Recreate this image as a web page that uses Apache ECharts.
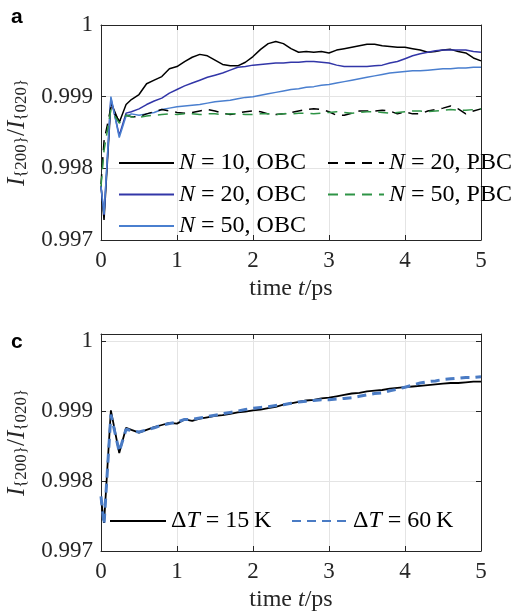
<!DOCTYPE html>
<html><head><meta charset="utf-8">
<script src="https://cdn.jsdelivr.net/npm/echarts@6/dist/echarts.min.js"></script>
<style>html,body{margin:0;padding:0;background:#fff}#c{width:529px;height:611px}</style>
</head><body><div id="c"></div>
<script>
// time axis (ps)
const T = [0, 0.04, 0.13, 0.24, 0.33,
  0.4, 0.5, 0.6, 0.7, 0.8, 0.9, 1.0, 1.1, 1.2, 1.3,
  1.4, 1.5, 1.6, 1.7, 1.8, 1.9, 2.0, 2.1, 2.2, 2.3,
  2.4, 2.5, 2.6, 2.7, 2.8, 2.9, 3.0, 3.1, 3.2, 3.3,
  3.4, 3.5, 3.6, 3.7, 3.8, 3.9, 4.0, 4.1, 4.2, 4.3,
  4.4, 4.5, 4.6, 4.7, 4.8, 4.9, 5.0];

// panel a
const N10_OBC = [0.99775, 0.99728, 0.99892, 0.99864, 0.99889,
  0.99896, 0.99903, 0.99918, 0.99923, 0.99928, 0.99939, 0.99942, 0.99949, 0.99955, 0.99959,
  0.99957, 0.99951, 0.99945, 0.99943, 0.99943, 0.99948, 0.99956, 0.99966, 0.99974, 0.99977,
  0.99974, 0.99967, 0.99962, 0.99963, 0.99962, 0.99963, 0.99961, 0.99965, 0.99967, 0.99969,
  0.99971, 0.99973, 0.99973, 0.99971, 0.99970, 0.99969, 0.99969, 0.99967, 0.99965, 0.99962,
  0.99963, 0.99965, 0.99966, 0.99963, 0.99961, 0.99954, 0.99950];
const N20_OBC = [0.99775, 0.99735, 0.99898, 0.99846, 0.99877,
  0.99879, 0.99883, 0.99889, 0.99894, 0.99898, 0.99905, 0.99910, 0.99915, 0.99919, 0.99923,
  0.99927, 0.99930, 0.99933, 0.99937, 0.99941, 0.99942, 0.99944, 0.99945, 0.99946, 0.99947,
  0.99947, 0.99948, 0.99948, 0.99949, 0.99949, 0.99948, 0.99947, 0.99944, 0.99942, 0.99942,
  0.99942, 0.99942, 0.99943, 0.99944, 0.99947, 0.99949, 0.99953, 0.99957, 0.99960, 0.99962,
  0.99964, 0.99965, 0.99965, 0.99965, 0.99965, 0.99963, 0.99962];
const N50_OBC = [0.99775, 0.99736, 0.99900, 0.99843, 0.99873,
  0.99876, 0.99874, 0.99876, 0.99878, 0.99882, 0.99884, 0.99886, 0.99887, 0.99888, 0.99889,
  0.99891, 0.99893, 0.99894, 0.99895, 0.99897, 0.99899, 0.99900, 0.99902, 0.99904, 0.99906,
  0.99908, 0.99910, 0.99911, 0.99913, 0.99914, 0.99916, 0.99917, 0.99919, 0.99921, 0.99923,
  0.99925, 0.99927, 0.99929, 0.99931, 0.99933, 0.99934, 0.99935, 0.99936, 0.99936, 0.99937,
  0.99938, 0.99939, 0.99939, 0.99940, 0.99940, 0.99941, 0.99941];
const N20_PBC = [0.99778, 0.99838, 0.99885, 0.99866, 0.99874,
  0.99872, 0.99872, 0.99876, 0.99879, 0.99882, 0.99880, 0.99878, 0.99877, 0.99878, 0.99880,
  0.99882, 0.99880, 0.99877, 0.99875, 0.99877, 0.99879, 0.99880, 0.99879, 0.99876, 0.99875,
  0.99876, 0.99878, 0.99880, 0.99882, 0.99883, 0.99882, 0.99879, 0.99874, 0.99874, 0.99877,
  0.99880, 0.99880, 0.99880, 0.99881, 0.99880, 0.99876, 0.99879, 0.99876, 0.99876, 0.99880,
  0.99882, 0.99884, 0.99887, 0.99883, 0.99876, 0.99880, 0.99883];
const N50_PBC = [0.99775, 0.99825, 0.99882, 0.99863, 0.99874,
  0.99872, 0.99871, 0.99873, 0.99874, 0.99875, 0.99876, 0.99875, 0.99876, 0.99876, 0.99875,
  0.99876, 0.99876, 0.99875, 0.99876, 0.99876, 0.99875, 0.99875, 0.99876, 0.99876, 0.99875,
  0.99876, 0.99876, 0.99877, 0.99877, 0.99876, 0.99877, 0.99878, 0.99879, 0.99878, 0.99877,
  0.99878, 0.99879, 0.99879, 0.99878, 0.99877, 0.99878, 0.99879, 0.99880, 0.99880, 0.99879,
  0.99880, 0.99881, 0.99882, 0.99881, 0.99881, 0.99882, 0.99883];

// panel c
const DT15 = [0.99775, 0.99740, 0.99901, 0.99840, 0.99876,
  0.99873, 0.99869, 0.99873, 0.99877, 0.99880, 0.99883, 0.99882, 0.99888, 0.99886, 0.99889,
  0.99891, 0.99893, 0.99894, 0.99896, 0.99898, 0.99899, 0.99901, 0.99902, 0.99904, 0.99906,
  0.99909, 0.99911, 0.99913, 0.99915, 0.99916, 0.99918, 0.99919, 0.99921, 0.99923, 0.99925,
  0.99926, 0.99928, 0.99929, 0.99930, 0.99932, 0.99933, 0.99934, 0.99935, 0.99936, 0.99937,
  0.99938, 0.99939, 0.99940, 0.99940, 0.99941, 0.99942, 0.99942];
const DT60 = [0.99778, 0.99738, 0.99895, 0.99842, 0.99874,
  0.99872, 0.99870, 0.99873, 0.99876, 0.99880, 0.99882, 0.99884, 0.99888, 0.99888, 0.99890,
  0.99892, 0.99894, 0.99896, 0.99898, 0.99900, 0.99902, 0.99904, 0.99905, 0.99906, 0.99908,
  0.99909, 0.99911, 0.99913, 0.99914, 0.99915, 0.99916, 0.99916, 0.99917, 0.99918, 0.99919,
  0.99921, 0.99923, 0.99925, 0.99926, 0.99929, 0.99931, 0.99934, 0.99937, 0.99940, 0.99942,
  0.99943, 0.99945, 0.99946, 0.99947, 0.99948, 0.99948, 0.99949];

const NAMES_A = ['N = 10, OBC', 'N = 20, OBC', 'N = 50, OBC', 'N = 20, PBC', 'N = 50, PBC'];
const NAMES_C = ['ΔT = 15\u2009K', 'ΔT = 60\u2009K'];
const Y_TICKS = [0.997, 0.998, 0.999, 1];
const X_TICKS = [0, 1, 2, 3, 4, 5];

const SERIF = 'Liberation Serif';
const FS = 23;   // tick labels
const FL = 24;   // legend & axis names
const AX = '#262626';
const pair = a => T.map((t, i) => [t, a[i]]);

function xAxes(gi) {
  return [{
    gridIndex: gi, type: 'value', min: X_TICKS[0], max: X_TICKS[X_TICKS.length - 1], interval: 1, position: 'bottom',
    axisLine: { show: true, onZero: false, lineStyle: { color: AX, width: 1 } },
    axisTick: { show: true, inside: true, length: 5, lineStyle: { color: AX } },
    axisLabel: { fontFamily: SERIF, fontSize: FS, color: AX, margin: 9 },
    splitLine: { show: true, lineStyle: { color: '#e4e4e4', width: 1 } },
    name: 'time {i|t}/ps', nameLocation: 'middle', nameGap: 37,
    nameTextStyle: { fontFamily: SERIF, fontSize: FL, color: AX,
      rich: { i: { fontFamily: SERIF, fontStyle: 'italic', fontSize: FL, color: AX } } }
  }, {
    gridIndex: gi, type: 'value', min: 0, max: 5, interval: 1, position: 'top',
    axisLine: { show: true, onZero: false, lineStyle: { color: AX, width: 1 } },
    axisTick: { show: true, inside: true, length: 5, lineStyle: { color: AX } },
    axisLabel: { show: false }, splitLine: { show: false }
  }];
}
function yAxes(gi, max) {
  const fmt = v => {
    if (Math.abs(v - 1) < 1e-9) return '1';
    if (!Y_TICKS.some(t => Math.abs(t - v) < 1e-9)) return '';
    return v.toFixed(3);
  };
  return [{
    gridIndex: gi, type: 'value', min: 0.997, max: max, interval: 0.001, position: 'left',
    axisLine: { show: true, onZero: false, lineStyle: { color: AX, width: 1 } },
    axisTick: { show: true, inside: true, length: 5, lineStyle: { color: AX } },
    axisLabel: { fontFamily: SERIF, fontSize: FS, color: AX, margin: 8, formatter: fmt },
    splitLine: { show: true, lineStyle: { color: '#e4e4e4', width: 1 } },
    name: '{i|I}{s|{200}}{n|/}{i|I}{s|{020}}', nameLocation: 'middle', nameGap: 58,
    nameTextStyle: {
      fontFamily: SERIF, fontSize: 17, color: AX,
      rich: {
        i: { fontFamily: SERIF, fontStyle: 'italic', fontSize: 25, color: AX, padding: [0, 0, 9, 0] },
        n: { fontFamily: SERIF, fontSize: 25, color: AX, padding: [0, 0, 9, 0] },
        s: { fontFamily: SERIF, fontSize: 17, color: AX }
      }
    }
  }, {
    gridIndex: gi, type: 'value', min: 0.997, max: max, interval: 0.001, position: 'right',
    axisLine: { show: true, onZero: false, lineStyle: { color: AX, width: 1 } },
    axisTick: { show: true, inside: true, length: 5, lineStyle: { color: AX } },
    axisLabel: { show: false }, splitLine: { show: false }
  }];
}

const legendText = { fontFamily: SERIF, fontSize: FL, color: '#000', lineHeight: 26,
  rich: { i: { fontFamily: SERIF, fontStyle: 'italic', fontSize: FL, color: '#000', lineHeight: 26 } } };
const fmtA = n => n.replace(/^N/, '{i|N}');
const fmtC = n => n.replace(/^ΔT/, 'Δ{i|T}');
const legendBase = { padding: 0, itemHeight: 14, selectedMode: false, textStyle: legendText,
  itemStyle: { opacity: 0, color: 'rgba(0,0,0,0)', borderWidth: 0 } };

function line(name, data, color, width, dash, xi, yi, z) {
  return { type: 'line', name, data: pair(data), xAxisIndex: xi, yAxisIndex: yi,
    symbol: 'none', showSymbol: false, smooth: false, z: z, animation: false,
    lineStyle: { color, width, type: dash ? dash : 'solid' }, itemStyle: { color } };
}

const chart = echarts.init(document.getElementById('c'));
chart.setOption({
  animation: false,
  backgroundColor: '#fff',
  grid: [
    { left: 101, top: 25, width: 380, height: 215, containLabel: false, outerBoundsMode: 'none' },
    { left: 101, top: 334, width: 380, height: 217, containLabel: false, outerBoundsMode: 'none' }
  ],
  xAxis: [...xAxes(0), ...xAxes(1)],
  yAxis: [...yAxes(0, 1), ...yAxes(1, 1.0001)],
  legend: [
    Object.assign({}, legendBase, { orient: 'vertical', left: 118, top: 150, itemWidth: 55, itemGap: 5.5,
      data: NAMES_A.slice(0, 3), formatter: fmtA }),
    Object.assign({}, legendBase, { orient: 'vertical', left: 327, top: 150, itemWidth: 56, itemGap: 5.5,
      data: NAMES_A.slice(3), formatter: fmtA }),
    Object.assign({}, legendBase, { orient: 'horizontal', left: 109, top: 508, itemWidth: 56,
      data: [NAMES_C[0]], formatter: fmtC }),
    Object.assign({}, legendBase, { orient: 'horizontal', left: 291, top: 508, itemWidth: 56,
      data: [NAMES_C[1]], formatter: fmtC })
  ],
  graphic: [
    { type: 'text', left: 11, top: 7, style: { text: 'a', font: 'bold 21px "Liberation Sans"', fill: '#000' } },
    { type: 'text', left: 11, top: 332, style: { text: 'c', font: 'bold 21px "Liberation Sans"', fill: '#000' } }
  ],
  series: [
    line(NAMES_A[0], N10_OBC, '#000000', 1.5, null, 0, 0, 2),
    line(NAMES_A[1], N20_OBC, '#3236a8', 1.5, null, 0, 0, 3),
    line(NAMES_A[2], N50_OBC, '#4a7fcf', 1.5, null, 0, 0, 4),
    line(NAMES_A[3], N20_PBC, '#000000', 1.5, [10, 7], 0, 0, 5),
    line(NAMES_A[4], N50_PBC, '#2e9446', 1.5, [10, 7], 0, 0, 6),
    line(NAMES_C[0], DT15, '#000000', 1.8, null, 2, 2, 2),
    line(NAMES_C[1], DT60, '#4a7bc4', 3, [9, 6], 2, 2, 3)
  ]
});
</script>
</body></html>
